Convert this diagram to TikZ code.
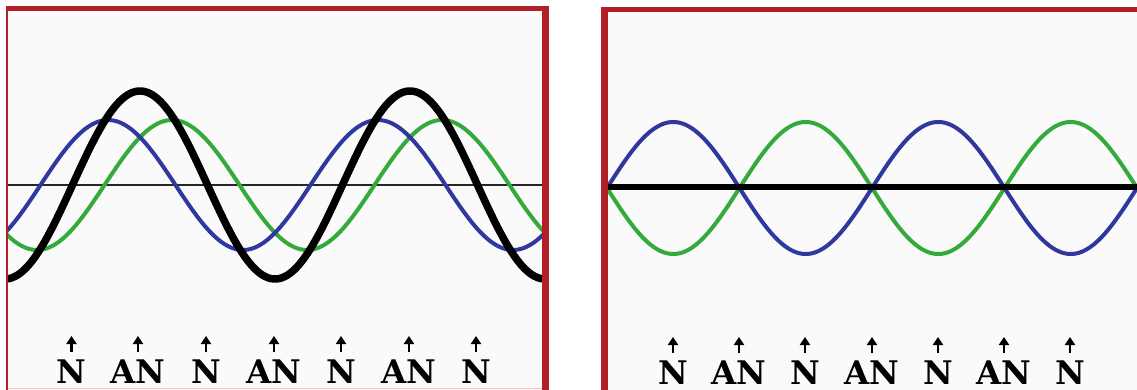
\documentclass[tikz,border=0pt]{standalone}
\usepackage{fontspec}
\newfontfamily\lblfont{DejaVu Serif}[BoldFont={DejaVu Serif Bold}]
\usetikzlibrary{arrows.meta}
\definecolor{frameRed}{RGB}{178,32,38}
\definecolor{waveBlue}{RGB}{48,56,160}
\definecolor{waveGreen}{RGB}{52,170,60}
\definecolor{panelBg}{RGB}{250,250,250}
\tikzset{
  bluewave/.style={draw=waveBlue,line width=4pt,line join=round},
  greenwave/.style={draw=waveGreen,line width=4pt,line join=round},
  sumwave/.style={draw=black,line width=7.5pt,line join=round},
  thinaxis/.style={draw=black!85,line width=1.6pt},
  thickaxis/.style={draw=black,line width=5.5pt},
  uparrow/.style={draw=black,line width=2.6pt,-{Triangle[width=10pt,length=8pt]}},
  lbl/.style={anchor=base,inner sep=0pt,font=\lblfont\bfseries\fontsize{32.5}{34}\selectfont}
}
\begin{document}
\begin{tikzpicture}[x=1pt,y=-1pt]
\useasboundingbox (0,0) rectangle (1137,390);
\fill[white] (0,0) rectangle (1137,390);
% ---------- left panel ----------
\fill[panelBg] (8,11) rectangle (542,390);
\begin{scope}
\clip (8,11) rectangle (542,390);
\draw[thinaxis] (8,185) -- (542,185);
\draw[greenwave] plot[domain=6:544,samples=240] (\x,{185-65*sin((\x-104.5)*1.333333)});
\draw[bluewave] plot[domain=6:544,samples=240] (\x,{185-65*sin((\x-40.5)*1.333333)});
\draw[sumwave] plot[domain=4:546,samples=240] (\x,{185-94*sin((\x-72.5)*1.333333)});
\end{scope}
\draw[red!25,line width=1pt] (8,388.5) -- (542,388.5);
\fill[frameRed] (6,6) rectangle (549,11);
\fill[frameRed] (6,6) rectangle (8,390);
\fill[frameRed] (542,6) rectangle (549,390);
% labels left
\foreach \i/\x/\t in {1/71.5/N,2/138/AN,3/206/N,4/274/AN,5/341/N,6/409/AN,7/476/N}{
  \node[lbl] (L\i) at (\x,383.5) {\t};
  \coordinate (Lb\i) at (\x,352);
  \coordinate (Lt\i) at (\x,336);
  \draw[uparrow] (Lb\i) -- (Lt\i);
}
% ---------- right panel ----------
\fill[panelBg] (608,12) rectangle (1137,390);
\begin{scope}
\clip (608,12) rectangle (1137,390);
\draw[greenwave] plot[domain=606:1139,samples=240] (\x,{188+66*sin((\x-607)*1.358491)});
\draw[bluewave] plot[domain=606:1139,samples=240] (\x,{188-66*sin((\x-607)*1.358491)});
\draw[thickaxis] (608,187) -- (1137,187);
\end{scope}
\fill[frameRed] (601,7) rectangle (1137,12);
\fill[frameRed] (601,7) rectangle (608,390);
% labels right
\foreach \i/\x/\t in {1/673/N,2/739/AN,3/805/N,4/872/AN,5/938/N,6/1004/AN,7/1070/N}{
  \node[lbl] (R\i) at (\x,384) {\t};
  \coordinate (Rb\i) at (\x,353);
  \coordinate (Rt\i) at (\x,337);
  \draw[uparrow] (Rb\i) -- (Rt\i);
}
\end{tikzpicture}
\end{document}
